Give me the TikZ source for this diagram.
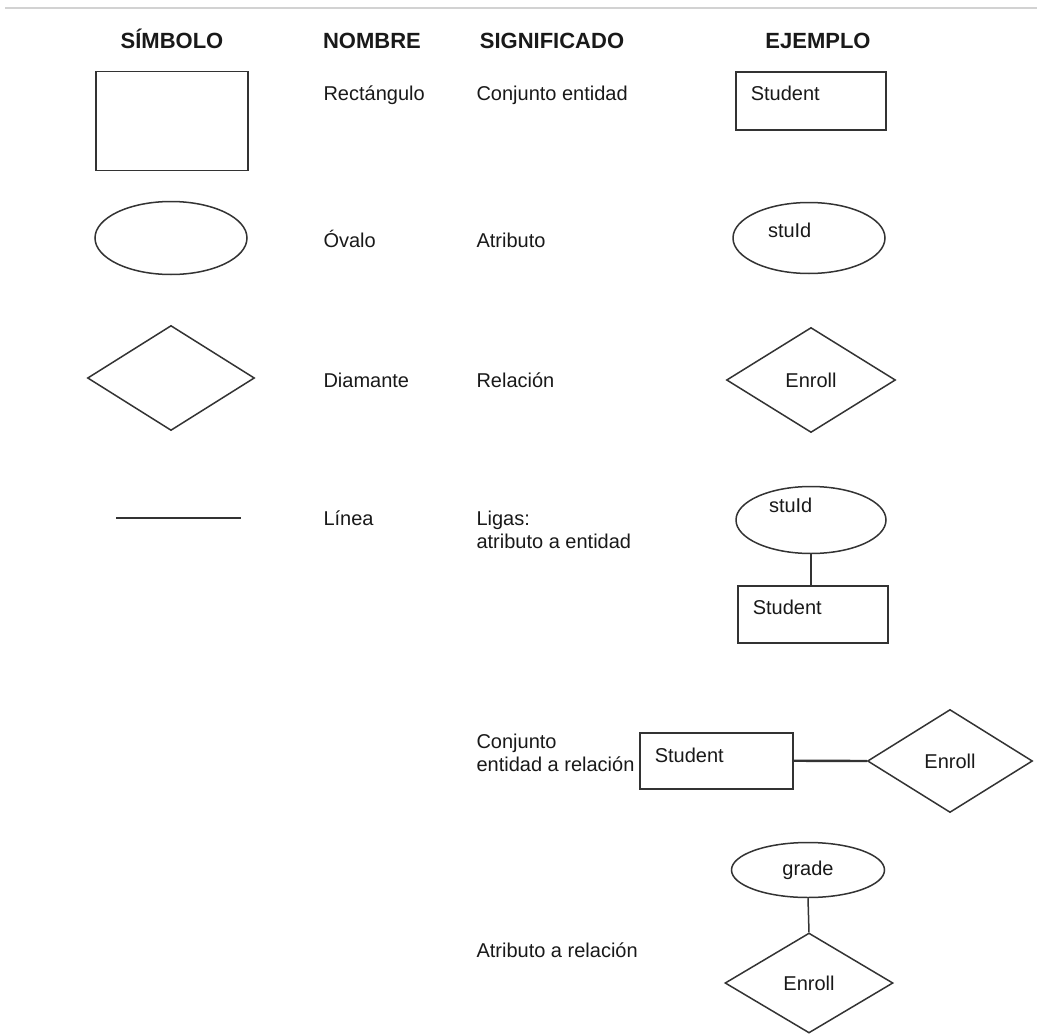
\documentclass[tikz,border=0pt]{standalone}
\usepackage{fontspec}
\setmainfont{Liberation Sans}
\usetikzlibrary{shapes.geometric}

\begin{document}
\begin{tikzpicture}[x=1pt, y=-1pt,
every node/.style={text=black!90, font=\fontsize{20}{23}\selectfont},
header/.style={font=\fontsize{22}{24}\selectfont\bfseries, anchor=base},
cell/.style={anchor=base west, align=left},
shapeline/.style={draw=black!80, line width=1.5pt},
entity/.style={shapeline, rectangle, anchor=north west, inner xsep=15pt, inner ysep=0pt, align=left},
attrib/.style={shapeline, ellipse, inner sep=0pt, align=left},
relation/.style={shapeline, diamond, inner sep=0pt, aspect=1.6}]
\useasboundingbox (0,0) rectangle (1037,1036);
\draw[gray!35, line width=2pt] (5,8) -- (1037,8);

\node[header] (hsim) at (172,48) {SÍMBOLO};
\node[header] (hnom) at (372,48) {NOMBRE};
\node[header] (hsig) at (552,48) {SIGNIFICADO};
\node[header] (hej) at (818,48) {EJEMPLO};

\node[shapeline, rectangle, minimum width=152pt, minimum height=99pt] (rect) at (172,121) {};
\node[cell] (nrect) at (320,100) {Rectángulo};
\node[cell] (srect) at (473,100) {Conjunto entidad};
\node[entity, text width=120pt, text height=29pt, text depth=29pt] (exrect) at (735,71) {Student};

\node[attrib, minimum width=152pt, minimum height=73pt] (oval) at (171,238) {};
\node[cell] (noval) at (320,247) {Óvalo};
\node[cell] (soval) at (473,247) {Atributo};
\node[attrib, minimum width=152pt, minimum height=71pt, text width=82pt, text height=12pt, text depth=14pt] (exoval) at (809,238) {stuId};

\node[relation, minimum width=167pt, minimum height=105pt] (diam) at (171,378) {};
\node[cell] (ndiam) at (320,387) {Diamante};
\node[cell] (sdiam) at (473,387) {Relación};
\node[relation, minimum width=169pt, minimum height=105pt] (exdiam) at (811,380) {Enroll};

\coordinate (lineA) at (116,518);
\coordinate (lineB) at (241,518);
\draw[shapeline] (lineA) -- (lineB);
\node[cell] (nline) at (320,525) {Línea};
\node[cell] (sline) at (473,548) {Ligas:\\atributo a entidad};
\node[attrib, minimum width=150pt, minimum height=67pt, text width=84pt, text height=4pt, text depth=20pt] (exoval2) at (811,520) {stuId};
\node[entity, text width=120pt, text height=29pt, text depth=28pt] (exrect2) at (737,585) {Student};
\draw[shapeline] (exoval2.south) -- (exoval2.south |- exrect2.north);

\node[cell] (nrel) at (473,771) {Conjunto\\entidad a relación};
\node[entity, text width=123pt, text height=30pt, text depth=26pt] (exrect3) at (639,732) {Student};
\node[relation, minimum width=165pt, minimum height=103pt] (exdiam3) at (950,761) {Enroll};
\draw[shapeline, line width=2.4pt] (exrect3.east) -- (exdiam3.west);

\node[attrib, minimum width=153pt, minimum height=55pt] (exoval4) at (808,870) {grade};
\node[cell] (natr) at (473,957) {Atributo a relación};
\node[relation, minimum width=168pt, minimum height=100pt] (exdiam4) at (809,983) {Enroll};
\draw[shapeline] (exoval4.south) -- (exdiam4.north);
\end{tikzpicture}
\end{document}
